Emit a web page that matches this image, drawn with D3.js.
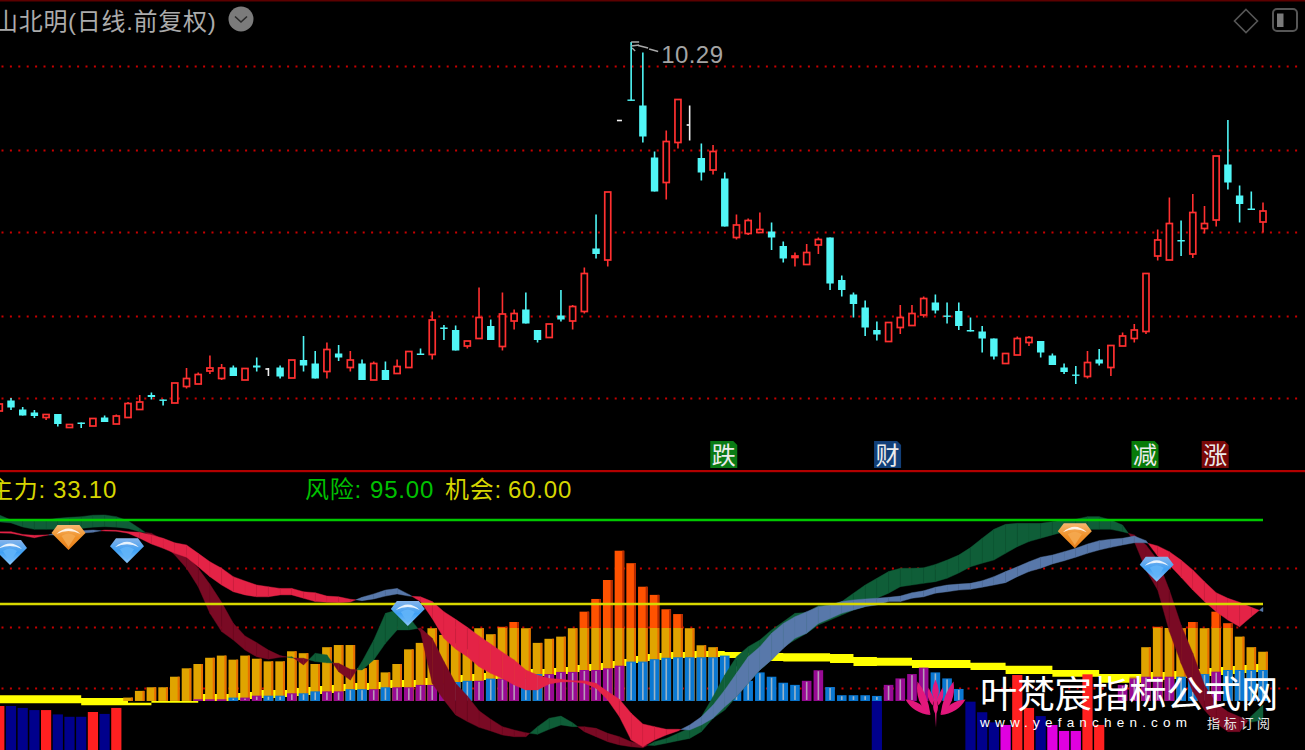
<!DOCTYPE html>
<html>
<head>
<meta charset="utf-8">
<script src="https://cdn.jsdelivr.net/npm/d3@7/dist/d3.min.js"></script>
<style>
html,body{margin:0;padding:0;background:#000;overflow:hidden}
svg{display:block}
text{font-family:'Liberation Sans','Noto Sans CJK SC',sans-serif}
</style>
</head>
<body>
<svg id="c" width="1305" height="750"></svg>
<script>
const title = "山北明(日线.前复权)";
const peakLabel = "10.29";
const indicatorName = "主力:", indicatorValue = "33.10";
const riskName = "风险:", riskValue = 95.00;
const chanceName = "机会:", chanceValue = 60.00;

const firstDay = -1, lastDay = 107;
const opens = [2.91,3.12,2.94,2.88,2.78,2.85,2.58,2.68,2.61,2.78,2.65,2.78,2.94,3.23,3.14,3.07,3.40,3.45,3.71,3.56,3.78,3.53,3.82,3.75,3.78,3.57,3.93,3.86,3.70,4.06,3.78,3.86,3.53,3.73,3.66,3.78,4.06,4.04,4.58,4.53,4.21,4.36,4.61,4.20,4.71,4.94,4.53,4.38,4.82,4.71,4.90,6.16,5.93,8.72,9.14,9.02,7.98,7.48,8.28,8.63,7.97,7.73,7.56,6.38,6.46,6.48,6.50,6.21,5.98,5.84,6.23,6.38,5.53,5.24,4.98,4.53,4.30,4.58,4.62,4.83,5.08,4.82,4.91,4.53,4.50,4.36,3.86,4.03,4.28,4.31,4.02,3.78,3.64,3.60,3.94,3.78,4.21,4.36,4.50,6.01,5.93,6.33,6.05,6.56,6.73,7.84,7.22,6.96,6.69];
const closes = [3.05,2.98,2.82,2.81,2.84,2.65,2.64,2.65,2.76,2.69,2.81,3.06,3.09,3.19,3.12,3.47,3.56,3.64,3.77,3.77,3.61,3.76,3.78,3.75,3.60,3.93,3.82,3.56,4.14,3.98,3.93,3.53,3.86,3.53,3.80,4.10,4.03,4.73,4.55,4.12,4.31,4.78,4.33,4.85,4.86,4.66,4.33,4.65,4.74,5.00,5.66,6.05,7.29,8.72,9.12,8.40,7.30,8.30,9.14,8.63,7.68,8.10,6.60,6.63,6.72,6.54,6.38,5.96,6.01,6.08,6.34,5.46,5.33,5.05,4.58,4.44,4.68,4.78,4.86,5.16,4.92,4.80,4.61,4.50,4.36,4.00,4.06,4.36,4.38,4.08,3.83,3.69,3.62,3.88,3.86,4.22,4.41,4.53,5.66,6.33,6.66,6.30,6.88,6.66,8.01,7.48,7.05,6.93,6.91];
const highs = [3.05,3.17,2.99,2.93,2.84,2.85,2.65,2.68,2.76,2.82,2.84,3.09,3.23,3.28,3.14,3.47,3.77,3.68,4.02,3.85,3.82,3.76,3.98,3.77,3.82,3.93,4.41,4.11,4.28,4.23,4.11,3.94,3.90,3.90,3.94,4.10,4.16,4.90,4.63,4.62,4.31,5.38,4.74,5.28,4.94,5.28,4.53,4.65,5.33,5.03,5.78,6.84,7.29,8.72,10.29,10.08,8.10,8.52,9.14,9.02,8.26,8.23,7.68,6.84,6.76,6.88,6.68,6.30,6.08,6.25,6.38,6.38,5.62,5.28,5.12,4.70,4.68,5.03,5.03,5.20,5.24,5.08,5.08,4.78,4.61,4.36,4.06,4.40,4.41,4.31,4.06,3.86,3.81,4.11,4.15,4.22,4.48,4.65,5.66,6.54,7.18,6.72,7.25,7.01,8.01,8.73,7.42,7.30,7.08];
const lows = [2.91,2.93,2.82,2.77,2.73,2.60,2.58,2.57,2.61,2.69,2.65,2.78,2.94,3.14,3.02,3.07,3.36,3.45,3.65,3.53,3.61,3.53,3.70,3.61,3.56,3.57,3.70,3.56,3.56,3.91,3.70,3.53,3.53,3.53,3.66,3.78,4.03,3.94,4.33,4.12,4.16,4.36,4.33,4.12,4.54,4.66,4.28,4.38,4.70,4.54,4.86,5.96,5.80,8.72,9.12,8.28,7.30,7.14,8.16,8.32,7.52,7.64,6.60,6.34,6.43,6.48,6.13,5.88,5.80,5.84,6.05,5.33,5.20,4.78,4.41,4.32,4.30,4.45,4.62,4.78,4.86,4.66,4.53,4.50,4.08,3.94,3.86,4.03,4.21,3.98,3.83,3.65,3.45,3.56,3.82,3.61,4.21,4.28,4.45,5.92,5.93,6.01,5.97,6.46,6.60,7.34,6.68,6.93,6.48];

const priceGrid = [9.81,8.13,6.49,4.81,3.17];
const indicatorGrid = [75,50.4,25];
const barBase = 19.6, amberCap = 50;

const amberTops = [null,null,null,null,null,null,null,null,null,null,null,
21,23.8,25.3,25.3,29.7,33.2,35,37.6,38.5,36.8,38.5,37.2,36.1,36.1,40.3,39.5,35,42,42.9,42.9,33.2,36.7,31.5,35,41.1,43.8,49.9,47.1,43.6,41.1,49.9,47.4,50.5,52.5,49.9,43.8,45.5,46.4,49.9,56.8,62.1,70,82.2,77,67.2,63.8,57.8,55.8,49.9,42.8,42,
null,null,null,null,null,null,null,null,null,null,null,null,null,null,null,null,null,null,null,null,null,null,null,null,null,null,null,null,null,null,null,null,null,null,null,
29.7,42,50.5,50,49.9,52.5,49.9,56.8,52,46.4,42,40.1];

const coreTops = [null,null,null,null,null,null,null,null,null,null,null,null,null,null,null,null,null,
20.3,20.3,20.3,21,21,21.8,21.8,21.8,22.8,22.8,23.6,23.6,23.6,24.5,24.5,24.5,25.3,25.3,25.3,26.3,26.3,26.9,27.5,28,28,28.9,28.9,28,29.2,30.8,30.8,31.7,31.7,32.5,32.5,33.2,34.3,36,36,37,37.6,37.8,37.8,37.8,37.8,38.5,34.2,28,31.5,29.7,27.2,26.3,28,32.4,25.4,22,22,22,21.7,26.3,29,30.8,33.5,31.5,29,24.6,
null,null,null,null,null,null,null,null,null,null,null,null,null,
26.3,29,29.7,29.7,29.7,29.7,30,30.8,31.8,32.5,32.5,32.5,32.5];
const coreKinds = (".".repeat(17) + "PPPBPPBBPBBPPBBPBPPPPPBBPBPPBBPPPPPPP" + "BBBBBBBBBBBBBBB" + "PP" + "BBBBB" + "PPPP" + "BBB" + ".".repeat(13) + "PPPPPBBBPBBBB").split("");

const lowDays  = [-1,0,1,2,3,4,5,6,7,8,9,74,82,83,84,85,86,87,88,89,90,91,92,93];
const lowTops  = [17.5,17.5,16.7,15.8,15.8,14,13,13,15,14.2,16.7,20,19.3,14.9,10.7,9.6,30.4,16.7,13.3,9.6,7.1,7.1,30.7,9.6];
const lowKinds = ["r","b","b","b","r","b","b","b","r","b","r","b","b","b","b","m","r","r","b","m","m","m","r","r"];

const rep = (v,n)=>Array(n).fill(v);
const yellowTop = [...rep(22,7),...rep(20.8,4),...rep(18.9,2),...rep(19.6,4),22.5,22.5,22.5,22.9,23.3,24.2,24.2,24.2,25,25.4,25.8,26.3,26.7,27.1,27.1,27.5,28.3,28.3,28.3,29.2,29.6,30,30.4,30.8,31.3,31.7,32.1,32.5,32.9,32.9,33.3,33.8,34.6,35,35.4,36.3,37.1,38.3,39.2,39.6,40,40,40.4,40.4,40.4,40,40,39.6,39.6,39.6,...rep(39.5,4),39.2,39.2,37.9,37.9,...rep(37.6,3),...rep(36.7,5),...rep(35.5,3),...rep(34.3,4),...rep(32.5,4),...rep(30.8,4),31.7,31.7,32.1,32.5,32.9,33.3,33.8,34.2,34.6,35,35.4];
const yellowBot = [...rep(18.6,7),...rep(17.8,6),...rep(18.9,4),19.6,19.6,19.6,20,20.4,20.8,20.8,21.3,21.7,22.1,22.5,22.9,23.8,24.2,24.2,24.6,25,25.4,25.4,26.3,26.7,27.1,27.5,27.9,28.3,28.8,29.2,29.6,29.6,30,30.4,30.8,31.7,32.1,32.5,33.3,34.2,35.4,36.3,36.7,37.1,37.5,37.5,37.9,37.9,37.5,36.7,36.3,36.3,36.3,...rep(36,4),35.4,35.4,34.2,34.2,...rep(34.3,3),...rep(33.3,5),...rep(32.5,3),...rep(30.8,4),...rep(29.7,4),...rep(27.2,4),28.3,28.3,28.8,29.2,29.6,30,30.4,30.8,31.3,31.7,32.1];

const aFast = [97.1,95,95,94.7,95,95.7,96.1,96.4,97,97.1,96.4,94.7,91.5,88,85,80.4,74.9,67.2,56.1,48.5,45,40.8,38,37,37.8,38,34.6,39.5,38.8,31.8,28.3,36,45,56.1,57.5,54.7,48.3,27,20,13.8,11,8.6,7.1,5.4,4.7,4.7,8.9,12.4,13.3,10.5,6.8,4.7,2.6,1.3,.5,.1,2.6,4,6.1,8.2,13,21.4,30.4,38,42.2,45,49.2,52.6,56.1,56.5,59.3,59.6,61,64.5,67.9,70.7,73.5,74.9,74.9,75.1,76.5,78.3,80.4,83.5,87.4,91.1,93.2,93.6,93.6,93.6,94.3,95,95.3,96.4,96.4,95,92.9,86,74.2,65.8,48.5,35.3,23.5,15.8,10.3,6.8,6.8,13.3,17.9];
const aSlow = [94.2,93.8,92.1,91.1,91.1,91.1,91.4,91.5,92,92.2,92,91.5,90.1,89.5,86.7,83.2,80.4,74.9,68.2,60.7,52,46.7,43.9,40.8,38.5,37.5,37.4,36,35.5,35.3,32.8,32.5,36.7,43.6,49.2,49.2,50,45.7,36,27,21.7,15.5,12,8.9,7.5,6.4,5.7,7.8,9.6,8.9,8.9,8.2,6.1,4.7,2.6,1.3,1,2,3,4,6.8,12.4,15.8,21.4,27,32.5,36.7,42.2,45,47.8,51.3,53.3,55.4,57.5,58.9,62.4,64.5,67.2,67.9,68.6,69.3,70.7,72.9,75.5,77,78.3,81.1,83.9,86,87.4,88.8,90.1,90.8,91.1,91.1,91.1,90.1,88.8,84.6,78.3,65.8,51.3,39.5,26.3,18.6,15.1,13,10.8,11.7];
const bFast = [89.6,89.5,88.5,87.6,88.6,89.5,90.1,90.5,90.8,90.4,90.3,89.5,87.4,85,83.2,81.1,79.5,75.5,71.4,67.9,65.1,63.8,63,63,63.8,63.8,62.4,61,60.7,60.5,60.8,62.8,64.2,65.8,66.5,64,61,54,45.7,41.3,38,33.9,31.1,29,26.3,24.2,24.2,26.7,27.5,27.6,27,24.9,20,13,3.3,.5,3.3,5.4,7.1,9.6,13,17.9,24.2,31.1,38,42.2,47.8,51.9,54.7,56.8,58.9,59.6,61,61.7,62.1,62.4,62.8,63.3,64.7,65.5,67,67.9,68.3,68.6,69.7,71.4,73.5,75.5,77.6,79.5,80.4,81.8,83.2,85,86.4,87,87.4,88.3,86.4,80,76.3,71.1,65.8,61,56.8,53.3,50.5,54.7,58.6];
const bSlow = [90.1,90.1,89,88.6,88.8,88.8,89.2,89.5,89.9,90.8,90.7,90.1,89.9,88.8,87.4,85.5,84.6,81.1,77.6,74.9,71.4,69.6,67.9,67.2,66.5,66.5,65.1,64.7,63.3,63,62,61.4,62.1,63.3,64.2,63.3,63,61,56.8,53.6,50.3,46.7,43.3,39.9,36.7,32.5,30.4,29,28.6,28,28,27,23.5,20.3,14.5,10,8.9,7.8,7.8,7.5,9.6,12.4,17.2,21.4,27,32.5,36.7,41.5,45.7,47.8,51.9,54,56.1,57.5,58.9,59.6,61,61,62.4,63,64.5,65.1,65.8,66.1,67,67.9,68.9,71.4,73.5,74.9,76.7,78,79.5,81.1,82.5,83.6,84.6,85.5,85.5,84.2,81.8,78.3,74.2,69.3,64.7,62.4,60.7,58.6,56.8];

const gemDays   = [0,10,34,98,5,91];
const gemValues = [76.3,77,50.8,69.3,82.5,83.2];
const gemKinds  = ["blue","blue","blue","blue","orange","orange"];

const signalDays   = [61,75,97,103];
const signalLabels = ["跌","财","减","涨"];
const signalColors = ["#0a7a14","#123f78","#087a08","#7a0808"];

const watermark = "叶梵宸指标公式网", watermarkUrl = "www.yefanchen.com", watermarkTag = "指标订阅";

const days = d3.range(firstDay, lastDay + 1);
[opens,closes,highs,lows,amberTops,coreTops,coreKinds,yellowTop,yellowBot,aFast,aSlow,bFast,bSlow].forEach((a,k)=>{
  if(a.length!==days.length) throw new Error("length "+k+" = "+a.length);
});

const x = d3.scaleLinear().domain([firstDay,lastDay]).range([-0.7,1263]);
const yP = d3.scaleLinear().domain([1.73,10.29]).range([470,42]);
const yI = d3.scaleLinear().domain([0,95]).range([748,520]);
const svg = d3.select("#c");
const defs = svg.append("defs");
const RED="#ff3030", CYAN="#50f6f6";

// frame
svg.append("rect").attr("width",1305).attr("height",750).attr("fill","#000");
svg.append("rect").attr("width",1305).attr("height",1.5).attr("fill","#5c0000");

// dotted grid
const dot = (g,y)=>g.append("line").attr("x1",1.5).attr("x2",1300).attr("y1",Math.round(y)+.5).attr("y2",Math.round(y)+.5)
  .attr("stroke","#c80000").attr("stroke-width",2).attr("stroke-dasharray","2 6.4");
const gridG = svg.append("g");
priceGrid.forEach(p=>dot(gridG,yP(p)));
indicatorGrid.forEach(p=>dot(gridG,yI(p)));

// candles
const cG = svg.append("g");
const cKind = i => closes[i]>opens[i] ? "up" : closes[i]<opens[i] ? "down" : "flat";
const cCol = k => k==="up"?RED:k==="down"?CYAN:"#f0f0f0";
const BW = 6;
days.forEach((d,i)=>{
  const k=cKind(i), c=cCol(k), cx=x(d);
  const top=yP(Math.max(opens[i],closes[i])), bot=yP(Math.min(opens[i],closes[i]));
  if(highs[i]>lows[i]) cG.append("line").attr("x1",cx).attr("x2",cx).attr("y1",yP(highs[i])).attr("y2",yP(lows[i]))
    .attr("stroke",c).attr("stroke-width",1.6);
  if(k==="up"){
    cG.append("rect").attr("x",cx-BW/2).attr("y",top).attr("width",BW).attr("height",Math.max(bot-top,1))
      .attr("fill","#000").attr("stroke",c).attr("stroke-width",1.7);
  }else if(k==="down"){
    cG.append("rect").attr("x",cx-BW/2-.7).attr("y",top).attr("width",BW+1.4).attr("height",Math.max(bot-top,1.4)).attr("fill",c);
  }else{
    cG.append("rect").attr("x",highs[i]>lows[i]?cx-3:cx-2.5).attr("y",top-.8).attr("width",highs[i]>lows[i]?3:5).attr("height",1.6).attr("fill",c);
  }
});

// peak marker
const peakI = highs.indexOf(d3.max(highs)), px=x(days[peakI]), py=yP(highs[peakI]);
svg.append("path").attr("d",`M${px},${py} l8,0 M${px},${py+4} l8,-1 M${px+1},${py+6} l3,3 M${px+7},${py+3.5} l10,2.5 M${px+18},${py+7} l9,2.5`)
  .attr("stroke","#a8a8a8").attr("stroke-width",1.4).attr("fill","none");
svg.append("text").attr("x",px+30).attr("y",py+21).attr("fill","#a4a4a4").attr("font-size",24).attr("letter-spacing",.45).text(peakLabel);

// title + header icons
svg.append("text").attr("x",-6).attr("y",30).attr("fill","#ababab").attr("font-size",24).attr("letter-spacing",.7).text(title);
svg.append("circle").attr("cx",241).attr("cy",19).attr("r",12.5).attr("fill","#7b7b7b");
svg.append("path").attr("d","M235,16.5 L241,22 L247,16.5").attr("fill","none").attr("stroke","#2a2a2a").attr("stroke-width",1.6);
svg.append("path").attr("d","M1246,9.5 L1257.5,21 L1246,32.5 L1234.5,21 Z").attr("fill","none").attr("stroke","#565656").attr("stroke-width",1.6);
svg.append("rect").attr("x",1273).attr("y",9).attr("width",24).attr("height",22).attr("rx",4).attr("fill","none").attr("stroke","#565656").attr("stroke-width",2);
svg.append("rect").attr("x",1277).attr("y",13.5).attr("width",6.5).attr("height",13.5).attr("fill","#7a7a7a");

// signals
signalDays.forEach((d,i)=>{
  const cx=x(d)-1, g=svg.append("g").attr("transform",`translate(${cx-13.5},441)`);
  g.append("path").attr("d","M0,0 H23 L27,4 V27 H0 Z").attr("fill",signalColors[i]);
  g.append("text").attr("x",13.5).attr("y",22.5).attr("text-anchor","middle").attr("fill","#ececec").attr("font-size",24).text(signalLabels[i]);
});

// divider
svg.append("rect").attr("y",470).attr("width",1305).attr("height",2.2).attr("fill","#b20000");

// legend
const lg=(t,xp,c)=>svg.append("text").attr("x",xp).attr("y",498).attr("fill",c).attr("font-size",24).attr("letter-spacing",.8).text(t);
lg(indicatorName,-11,"#d6d600"); lg(indicatorValue,53,"#d6d600");
lg(riskName,305,"#00c000"); lg(riskValue.toFixed(2),370,"#00c000");
lg(chanceName,445,"#d6d600"); lg(chanceValue.toFixed(2),508,"#d6d600");

// yellow stepped band
svg.append("path").datum(days.map((d,i)=>({d,t:yellowTop[i],b:yellowBot[i]})))
  .attr("fill","#ffff00")
  .attr("d",d3.area().curve(d3.curveStepAfter).x(p=>x(p.d)).y0(p=>yI(p.b)).y1(p=>yI(p.t)));

// bars under the baseline
const lowColor={r:"#ff2020",b:"#00008c",m:"#e000e0"};
svg.append("g").selectAll("rect").data(lowDays).join("rect")
  .attr("x",d=>x(d)-5.1).attr("width",10.2)
  .attr("y",(d,i)=>yI(lowTops[i])).attr("height",(d,i)=>752-yI(lowTops[i]))
  .attr("fill",(d,i)=>lowColor[lowKinds[i]]);

// amber / orange bars
const BARW=9.6, STR=2;
const barG=svg.append("g");
const tops=days.map((d,i)=>({d,v:amberTops[i]})).filter(p=>p.v!==null);
const part=(rows,yTop,yBot,fill,stripe)=>{
  barG.append("g").selectAll("rect").data(rows).join("rect")
    .attr("x",p=>x(p.d)-BARW/2).attr("width",BARW).attr("y",yTop).attr("height",p=>yBot(p)-yTop(p)).attr("fill",fill);
  barG.append("g").selectAll("rect").data(rows).join("rect")
    .attr("x",p=>x(p.d)+BARW/2-STR).attr("width",STR).attr("y",yTop).attr("height",p=>yBot(p)-yTop(p)).attr("fill",stripe);
};
part(tops.filter(p=>p.v>amberCap),p=>yI(p.v),()=>yI(amberCap),"#ff5200","#b52a00");
part(tops,p=>yI(Math.min(p.v,amberCap)),()=>yI(barBase),"#e0a400","#e86e00");

// blue / purple core bars
const cores=days.map((d,i)=>({d,v:coreTops[i],k:coreKinds[i]})).filter(p=>p.v!==null);
const coreG=svg.append("g");
coreG.selectAll("rect.c").data(cores).join("rect").attr("class","c")
  .attr("x",p=>x(p.d)-BARW/2).attr("width",BARW).attr("y",p=>yI(p.v)).attr("height",p=>yI(barBase)-yI(p.v))
  .attr("fill",p=>p.k==="B"?"#0a78d2":"#980a94");
coreG.selectAll("rect.s").data(cores).join("rect").attr("class","s")
  .attr("x",p=>x(p.d)-.8).attr("width",1.6).attr("y",p=>yI(p.v)+1).attr("height",p=>Math.max(yI(barBase)-yI(p.v)-2,0))
  .attr("fill",p=>p.k==="B"?"#9ab4c8":"#b89ab8");

// ribbons
function ribbon(fast,slow,upColor,downColor){
  const g=svg.append("g");
  const area=d3.area().x(p=>x(p.d)).y0(p=>yI(p.f)).y1(p=>yI(p.s));
  const draw=(a,b)=>{
    const col=(a.f+b.f)>=(a.s+b.s)?upColor:downColor;
    g.append("path").attr("d",area([a,b])).attr("fill",col).attr("stroke",col).attr("stroke-width",.4);
  };
  for(let i=0;i<days.length-1;i++){
    const a={d:days[i],f:fast[i],s:slow[i]}, b={d:days[i+1],f:fast[i+1],s:slow[i+1]};
    const d0=a.f-a.s, d1=b.f-b.s;
    if(d0*d1<0){
      const t=d0/(d0-d1), v=a.f+(b.f-a.f)*t, m={d:a.d+t,f:v,s:v};
      draw(a,m); draw(m,b);
    } else draw(a,b);
  }
}
ribbon(aFast,aSlow,"#0f5e38","#7a0a24");
ribbon(bFast,bSlow,"#5878aa","#e42346");

// level lines
svg.append("line").attr("x1",0).attr("x2",x(lastDay)).attr("y1",yI(riskValue)).attr("y2",yI(riskValue)).attr("stroke","#00c800").attr("stroke-width",2.7);
svg.append("line").attr("x1",0).attr("x2",x(lastDay)).attr("y1",yI(chanceValue)).attr("y2",yI(chanceValue)).attr("stroke","#d8d800").attr("stroke-width",2.7);

// gems
const gemPal={blue:["#86b4ea","#3fa0f4","#8ac6fa"],orange:["#f7b870","#ef9028","#e8801c"]};
["blue","orange"].forEach(k=>{
  const lgr=defs.append("linearGradient").attr("id","gem-"+k).attr("x1",0).attr("x2",0).attr("y1",0).attr("y2",1);
  gemPal[k].forEach((c,i)=>lgr.append("stop").attr("offset",i/2).attr("stop-color",c));
});
gemDays.forEach((d,i)=>{
  const k=gemKinds[i], g=svg.append("g").attr("transform",`translate(${x(d)-1},${yI(gemValues[i])})`);
  g.append("path").attr("d","M-11,-25 L11,-25 L17,-17 L0,0 L-17,-17 Z").attr("fill",`url(#gem-${k})`);
  g.append("path").attr("d","M-12,-16 Q0,-27 12,-16 Q0,-22 -12,-16 Z").attr("fill","#fff").attr("opacity",.85);
  g.append("path").attr("d","M-7,-14 Q0,-19 7,-14 L0,-3 Z").attr("fill",k==="blue"?"#62b4f8":"#f4a850").attr("opacity",.9);
});

// watermark
const wm=svg.append("g");
const lotus=wm.append("g").attr("transform","translate(935.5,701.5)").attr("fill","#e2187c");
[1,-1].forEach(s=>{
  const p=lotus.append("g").attr("transform",`scale(${s},1)`);
  p.append("path").attr("d","M30,-2 Q14,-1 5,13.5 Q22,12 30,-2 Z");
  p.append("path").attr("d","M18,-20 Q8,-8 5,13 Q21,2 18,-20 Z");
  p.append("path").attr("d","M7,-14 Q10,-4 3,4 L1,-2 Z");
});
lotus.append("path").attr("d","M0,-22 Q-6,-10 -1,-2 Q-4,6 -.5,12 L.5,26 L1,12 Q4,6 1,-2 Q6,-10 0,-22 Z");
wm.append("text").attr("x",980).attr("y",708).attr("fill","#fff").attr("font-size",37.3).text(watermark);
wm.append("text").attr("x",980).attr("y",727).attr("fill","#fff").attr("font-size",13.5).attr("letter-spacing",5.2).text(watermarkUrl);
wm.append("text").attr("x",1207).attr("y",728).attr("fill","#e8e8e8").attr("font-size",13).attr("letter-spacing",3.7).text(watermarkTag);
</script>
</body>
</html>
